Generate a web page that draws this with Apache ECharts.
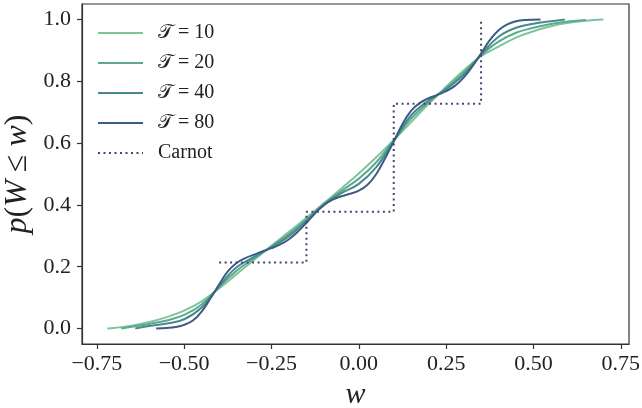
<!DOCTYPE html>
<html>
<head>
<meta charset="utf-8">
<script src="https://cdn.jsdelivr.net/npm/echarts@6/dist/echarts.min.js"></script>
<style>html,body{margin:0;padding:0;background:#fff}#c{width:642px;height:408px}</style>
</head>
<body>
<div id="c"></div>
<script>
var xTicks = [-0.75, -0.5, -0.25, 0, 0.25, 0.5, 0.75];
var yTicks = [0, 0.2, 0.4, 0.6, 0.8, 1.0];
var seriesNames = ['\u{1D4AF} = 10', '\u{1D4AF} = 20', '\u{1D4AF} = 40', '\u{1D4AF} = 80', 'Carnot'];

var x10 = [-0.72,-0.7,-0.65,-0.6,-0.55,-0.5,-0.45,-0.4,-0.35,-0.3,-0.25,-0.2,-0.15,-0.1,-0.05,0,0.05,0.1,0.15,0.2,0.25,0.3,0.35,0.4,0.45,0.5,0.55,0.6,0.65,0.7];
var y10 = [0,0.002,0.009,0.021,0.037,0.058,0.088,0.13,0.176,0.222,0.268,0.313,0.358,0.405,0.453,0.502,0.554,0.61,0.668,0.727,0.782,0.835,0.881,0.912,0.941,0.962,0.978,0.989,0.996,1.0];

var x20 = [-0.68,-0.65,-0.6,-0.55,-0.5,-0.45,-0.4,-0.35,-0.3,-0.25,-0.2,-0.15,-0.1,-0.05,0,0.05,0.1,0.15,0.2,0.25,0.3,0.35,0.4,0.45,0.5,0.55,0.6,0.65];
var y20 = [0,0.006,0.015,0.026,0.044,0.078,0.134,0.187,0.227,0.266,0.306,0.353,0.403,0.445,0.485,0.538,0.608,0.679,0.732,0.778,0.828,0.884,0.928,0.957,0.973,0.985,0.993,0.998];

var x40 = [-0.64,-0.6,-0.55,-0.5,-0.45,-0.4,-0.35,-0.3,-0.25,-0.2,-0.15,-0.1,-0.05,0,0.05,0.1,0.15,0.2,0.25,0.3,0.35,0.4,0.45,0.5,0.55,0.59];
var y40 = [0,0.008,0.016,0.03,0.068,0.137,0.198,0.232,0.263,0.299,0.348,0.401,0.438,0.468,0.522,0.607,0.69,0.738,0.774,0.821,0.886,0.944,0.973,0.986,0.994,1.0];

var x80 = [-0.58,-0.55,-0.525,-0.5,-0.475,-0.45,-0.425,-0.4,-0.375,-0.35,-0.325,-0.3,-0.275,-0.25,-0.225,-0.2,-0.175,-0.15,-0.125,-0.1,-0.075,-0.05,-0.025,0,0.025,0.05,0.075,0.1,0.125,0.15,0.175,0.2,0.225,0.25,0.275,0.3,0.325,0.35,0.375,0.4,0.425,0.45,0.475,0.52];
var y80 = [0,0.002,0.005,0.012,0.026,0.055,0.097,0.142,0.185,0.212,0.228,0.239,0.25,0.26,0.272,0.289,0.313,0.342,0.373,0.399,0.417,0.428,0.436,0.446,0.465,0.5,0.55,0.605,0.662,0.705,0.73,0.745,0.756,0.768,0.785,0.812,0.848,0.89,0.933,0.965,0.984,0.994,0.998,1.0];

var carnotX = [-0.4,-0.15,-0.15,0.1,0.1,0.35,0.35];
var carnotY = [0.214,0.214,0.378,0.378,0.727,0.727,1.0];

var colors = ['#7ec49b', '#5ba98f', '#488a8c', '#3b5c84', '#43456f'];

function pairs(xs, ys) { return xs.map(function (x, i) { return [x, ys[i]]; }); }

var FONT = '"Liberation Serif", "DejaVu Serif", "DejaVu Sans", serif';
var chart = echarts.init(document.getElementById('c'), null, {renderer: 'canvas'});

function curve(name, xs, ys, color) {
  return {
    name: name, type: 'line', data: pairs(xs, ys), showSymbol: false, symbol: 'none',
    smooth: 0.4,
    lineStyle: {color: color, width: 2}, itemStyle: {color: color}, z: 2
  };
}

chart.setOption({
  animation: false,
  grid: {left: 82, right: 13, top: 4, bottom: 64, containLabel: false, outerBoundsMode: 'none',
    show: true, borderColor: '#333', borderWidth: 1.2, backgroundColor: 'transparent'},
  legend: {
    orient: 'vertical', left: 92, top: 18, itemWidth: 45, itemHeight: 14, itemGap: 10,
    data: seriesNames,
    itemStyle: {opacity: 0},
    textStyle: {fontFamily: FONT, fontSize: 20, color: '#222', padding: [0, 0, 0, 10]}
  },
  xAxis: {
    type: 'value', min: -0.7925, max: 0.7735,
    axisLine: {show: true, onZero: false, lineStyle: {color: '#333', width: 1.2}},
    axisTick: {show: true, length: 5, lineStyle: {color: '#333', width: 1.2}, customValues: xTicks},
    axisLabel: {customValues: xTicks, margin: 9, fontFamily: FONT, fontSize: 22, color: '#222',
      formatter: function (v) { var s = Math.abs(v).toFixed(2); return (v < -1e-9 ? '\u2212' : '') + s; }},
    splitLine: {show: false},
    name: 'w', nameLocation: 'middle', nameGap: 32,
    nameTextStyle: {fontFamily: FONT, fontSize: 30, fontStyle: 'italic', color: '#222'}
  },
  yAxis: {
    type: 'value', min: -0.05, max: 1.05,
    axisLine: {show: true, onZero: false, lineStyle: {color: '#333', width: 1.2}},
    axisTick: {show: true, length: 5, lineStyle: {color: '#333', width: 1.2}, customValues: yTicks},
    axisLabel: {customValues: yTicks, margin: 11, fontFamily: FONT, fontSize: 22, color: '#222',
      formatter: function (v) { return v.toFixed(1); }},
    splitLine: {show: false},
    name: '{i|p}{n|(}{i|W}{n| \u2264 }{i|w}{n|)}', nameLocation: 'middle', nameGap: 48, nameRotate: 90,
    nameMoveOverlap: false,
    nameTextStyle: {fontFamily: FONT, fontSize: 32, color: '#222',
      rich: {i: {fontFamily: FONT, fontSize: 32, fontStyle: 'italic', color: '#222'},
             n: {fontFamily: FONT, fontSize: 32, color: '#222'}}}
  },
  series: [
    curve(seriesNames[0], x10, y10, colors[0]),
    curve(seriesNames[1], x20, y20, colors[1]),
    curve(seriesNames[2], x40, y40, colors[2]),
    curve(seriesNames[3], x80, y80, colors[3]),
    {
      name: seriesNames[4], type: 'line', data: pairs(carnotX, carnotY), showSymbol: false, symbol: 'none',
      lineStyle: {color: colors[4], width: 2, type: [2, 3.5], cap: 'butt'}, itemStyle: {color: colors[4]}, z: 3
    }
  ]
});
</script>
</body>
</html>
